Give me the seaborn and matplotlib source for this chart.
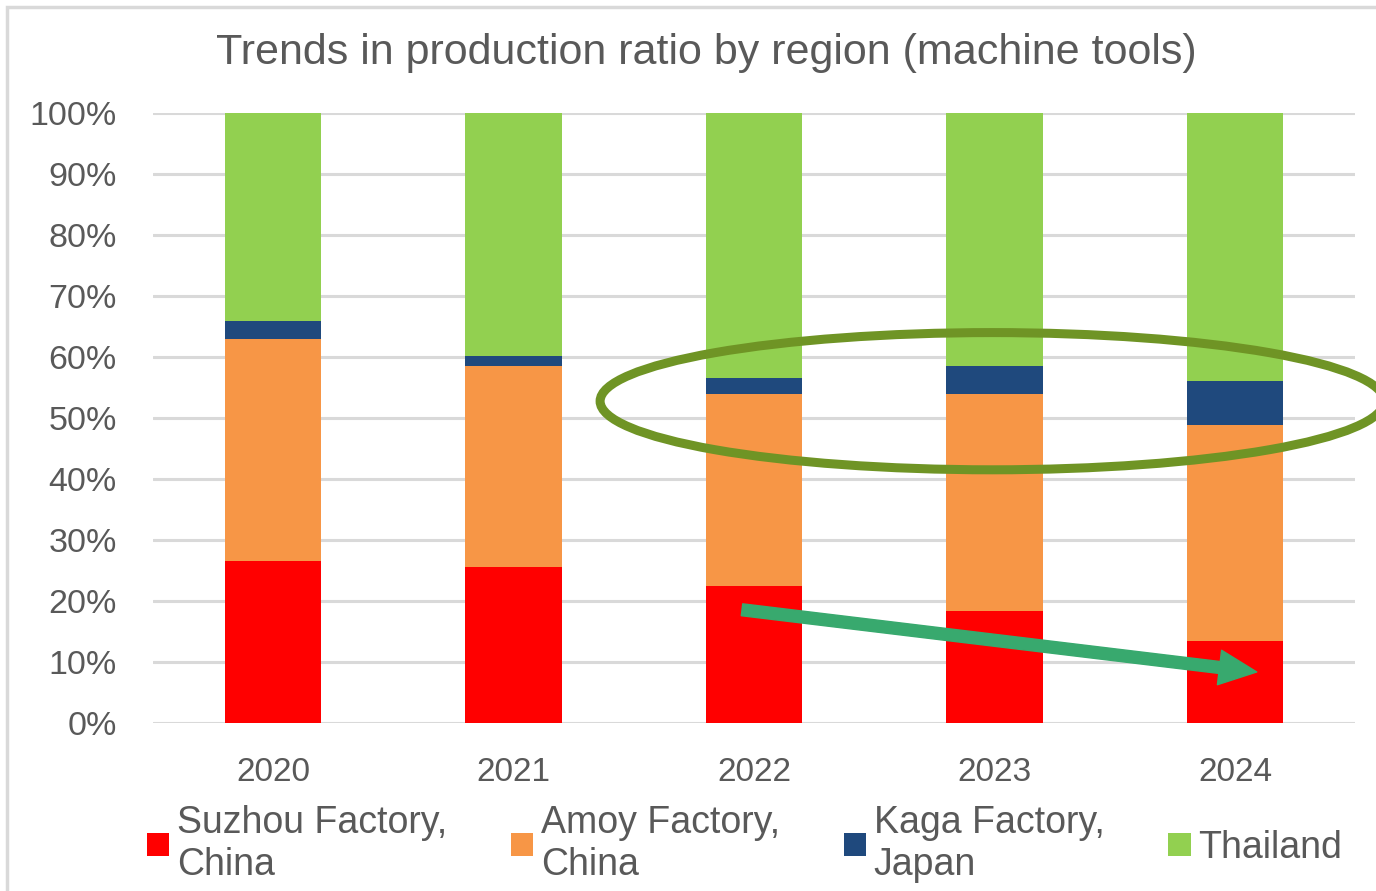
import numpy as np
import pandas as pd
import matplotlib
matplotlib.use("Agg")
import matplotlib.pyplot as plt
from matplotlib.patches import Patch, Ellipse, Rectangle
import seaborn as sns

years = ["2020", "2021", "2022", "2023", "2024"]
suzhou = [26.5, 25.5, 22.4, 18.3, 13.4]
amoy = [36.4, 32.9, 31.5, 35.6, 35.4]
kaga = [3.0, 1.7, 2.6, 4.5, 7.2]
thailand = [34.1, 39.9, 43.5, 41.6, 44.0]
series_names = ["Suzhou Factory,\nChina", "Amoy Factory,\nChina", "Kaga Factory,\nJapan", "Thailand"]
colors = ["#FF0000", "#F79646", "#1F497D", "#92D050"]
title = "Trends in production ratio by region (machine tools)"
ytick_vals = list(range(0, 101, 10))

sns.set_theme(style="white")
plt.rcParams["font.family"] = ["Liberation Sans", "DejaVu Sans"]
text_color = "#595959"
grid_color = "#D9D9D9"

fig = plt.figure(figsize=(13.76, 8.91), dpi=100)
ax = fig.add_axes([0.111, 0.189, 0.874, 0.6845])

layers = [suzhou, amoy, kaga, thailand]
cum = np.cumsum(np.array(layers), axis=0)
df = pd.DataFrame({"year": years})
for i in range(4):
    df[f"c{i}"] = cum[i]

# draw from top cumulative layer down so lower layers overlay
for i in range(3, -1, -1):
    sns.barplot(data=df, x="year", y=f"c{i}", color=colors[i], width=0.4,
                saturation=1, ax=ax, zorder=2, edgecolor="none", linewidth=0)

ax.set_ylim(0, 100)
ax.set_xlim(-0.5, 4.5)
ax.set_yticks(ytick_vals)
ax.set_yticklabels([f"{v}%" for v in ytick_vals])
ax.yaxis.grid(True, color=grid_color, linewidth=2.2, zorder=0)
ax.set_axisbelow(True)
for s in ax.spines.values():
    s.set_visible(False)
ax.tick_params(axis="y", length=0, pad=26, labelsize=24.5, labelcolor=text_color)
ax.tick_params(axis="x", length=0, pad=25, labelsize=24, labelcolor=text_color)
ax.set_xlabel("")
ax.set_ylabel("")

fig.text(0.513, 0.94, title, ha="center", va="center", fontsize=31, color=text_color)

handles = [Patch(facecolor=c, edgecolor="none") for c in colors]
leg = fig.legend(handles, series_names, loc="center", bbox_to_anchor=(0.541, 0.053),
                 ncol=4, frameon=False, fontsize=27, labelcolor=text_color,
                 handlelength=0.6, handleheight=0.6, handletextpad=0.2,
                 columnspacing=1.7, labelspacing=0.15)

# annotations
ell = Ellipse((2.99, 52.7), 3.26, 22.5, fill=False, edgecolor="#6F9425",
              linewidth=6.5, zorder=5, clip_on=False)
ax.add_patch(ell)
ax.annotate("", xy=(4.09, 8.3), xytext=(1.95, 18.5),
            arrowprops=dict(arrowstyle="simple,head_length=2.7,head_width=2.5,tail_width=0.86",
                            mutation_scale=10, color="#38A96E", shrinkA=0, shrinkB=0),
            zorder=6)

fig.patches.append(Rectangle((0.005, -0.1), 1.2, 1.092, transform=fig.transFigure,
                             fill=False, edgecolor="#D9D9D9", linewidth=2.5))

fig.savefig("out.png", dpi=100)
